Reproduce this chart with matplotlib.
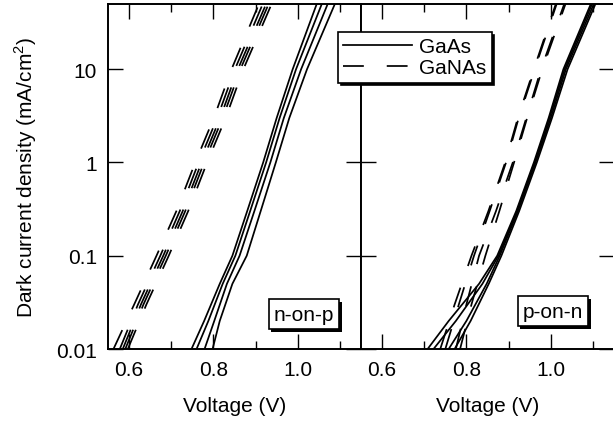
import matplotlib
matplotlib.use("Agg")
import matplotlib.pyplot as plt
import matplotlib.patheffects as pe
from matplotlib.ticker import FixedLocator, FixedFormatter

plt.rcParams['font.family'] = ['Liberation Sans', 'DejaVu Sans']
plt.rcParams['mathtext.fontset'] = 'custom'
plt.rcParams['mathtext.rm'] = 'Liberation Sans'
plt.rcParams['font.size'] = 15
plt.rcParams['lines.scale_dashes'] = False

# current density points (mA/cm2) at which voltages were read
j_solid = [0.01, 0.02, 0.05, 0.1, 0.3, 1, 3, 10, 50]
j_dash = [0.01, 0.03, 0.1, 0.3, 1, 3, 10, 50]

# n-on-p GaAs (solid)
np_gaas = [
    [0.748, 0.778, 0.815, 0.845, 0.880, 0.918, 0.950, 0.988, 1.045],
    [0.760, 0.788, 0.822, 0.852, 0.887, 0.925, 0.957, 0.996, 1.057],
    [0.779, 0.802, 0.832, 0.862, 0.897, 0.935, 0.967, 1.008, 1.071],
    [0.798, 0.815, 0.845, 0.879, 0.912, 0.948, 0.980, 1.022, 1.088],
]
# n-on-p GaNAs (dashed)
np_ganas = [
    [0.563, 0.612, 0.665, 0.712, 0.757, 0.801, 0.843, 0.908],
    [0.578, 0.621, 0.674, 0.720, 0.765, 0.809, 0.851, 0.917],
    [0.585, 0.628, 0.681, 0.727, 0.772, 0.816, 0.858, 0.925],
    [0.591, 0.634, 0.687, 0.733, 0.778, 0.822, 0.864, 0.931],
    [0.597, 0.641, 0.694, 0.740, 0.785, 0.829, 0.871, 0.938],
]
# p-on-n GaAs (solid)
pn_gaas = [
    [0.708, 0.758, 0.830, 0.873, 0.918, 0.960, 0.995, 1.030, 1.095],
    [0.722, 0.775, 0.838, 0.876, 0.920, 0.962, 0.997, 1.033, 1.098],
    [0.758, 0.800, 0.848, 0.879, 0.922, 0.964, 1.000, 1.036, 1.102],
    [0.772, 0.810, 0.853, 0.883, 0.925, 0.967, 1.003, 1.040, 1.106],
]
# p-on-n GaNAs (dashed)
pn_ganas = [
    [0.738, 0.772, 0.812, 0.852, 0.892, 0.922, 0.960, 1.012],
    [0.750, 0.782, 0.818, 0.855, 0.894, 0.924, 0.962, 1.014],
    [0.775, 0.800, 0.830, 0.870, 0.910, 0.942, 0.977, 1.032],
    [0.785, 0.812, 0.845, 0.878, 0.913, 0.944, 0.980, 1.035],
]

yticks = [0.01, 0.1, 1, 10]
ytick_labels = ['0.01', '0.1', '1', '10']
xticks = [0.6, 0.8, 1.0]
xtick_labels = ['0.6', '0.8', '1.0']
xminor = [0.7, 0.9, 1.1]

dash = (15, 16.5)
lw = 1.25

fig = plt.figure(figsize=(6.13, 4.27), dpi=100)
ax1 = fig.add_axes([0.1762, 0.1803, 0.4127, 0.808])
ax2 = fig.add_axes([0.5889, 0.1803, 0.4127, 0.808])

for ax, solid, dashed in [(ax1, np_gaas, np_ganas), (ax2, pn_gaas, pn_ganas)]:
    for v in solid:
        ax.plot(v, j_solid, color='k', lw=lw)
    for v in dashed:
        ax.plot(v, j_dash, color='k', lw=lw, dashes=dash)
    ax.set_yscale('log')
    ax.set_xlim(0.55, 1.15)
    ax.set_ylim(0.01, 50)
    ax.xaxis.set_major_locator(FixedLocator(xticks))
    ax.xaxis.set_major_formatter(FixedFormatter(xtick_labels))
    ax.xaxis.set_minor_locator(FixedLocator(xminor))
    ax.yaxis.set_major_locator(FixedLocator(yticks))
    ax.yaxis.set_major_formatter(FixedFormatter(ytick_labels))
    ax.yaxis.set_minor_locator(FixedLocator([]))
    ax.tick_params(which='both', direction='in', top=True, right=True, width=1.0)
    ax.tick_params(which='major', length=10.5, pad=8)
    ax.tick_params(which='minor', length=6)
    for s in ax.spines.values():
        s.set_linewidth(1.4)
    ax.set_xlabel('Voltage (V)', labelpad=12)

ax2.tick_params(labelleft=False)
ax1.set_ylabel('Dark current density (mA/cm$^\\mathregular{2}$)', labelpad=12)

# labels in boxes with a drop shadow
shadow = [pe.withSimplePatchShadow(offset=(2, -2), shadow_rgbFace='k', alpha=1)]
for ax, txt, x, y in [(ax1, 'n-on-p', 0.775, 0.101), (ax2, 'p-on-n', 0.759, 0.110)]:
    t = ax.text(x, y, txt, transform=ax.transAxes, ha='center', va='center',
                bbox=dict(boxstyle='square,pad=0.25', fc='white', ec='k', lw=1.2))
    t.get_bbox_patch().set_path_effects(shadow)

h1, = ax2.plot([], [], color='k', lw=lw)
h2, = ax2.plot([], [], color='k', lw=lw, dashes=dash)
leg = fig.legend([h1, h2], ['GaAs', 'GaNAs'], loc='upper left',
                 bbox_to_anchor=(0.5514, 0.9227), borderaxespad=0,
                 fancybox=False, edgecolor='k', framealpha=1,
                 shadow={'color': 'k', 'alpha': 1}, handlelength=3.3,
                 handletextpad=0.35, labelspacing=0.1, borderpad=0.25)
leg.get_frame().set_linewidth(1.2)

fig.savefig('out.png', dpi=100)
